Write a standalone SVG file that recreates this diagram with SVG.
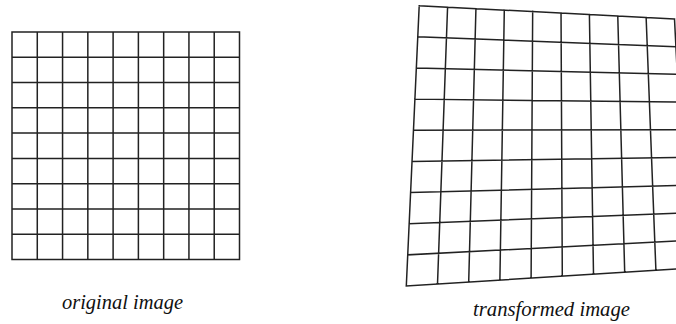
<svg xmlns="http://www.w3.org/2000/svg" width="676" height="324" viewBox="0 0 676 324">
<style>
.g{fill:none;stroke:#222;stroke-width:1.5;stroke-linecap:square}
.lbl{font-family:'Liberation Serif','DejaVu Serif',serif;font-style:italic;font-size:20px;fill:#111;text-anchor:middle}
</style>
<rect width="676" height="324" fill="#fff"/>
<g id="original-grid">
<path class="g" d="M12,32H239.5M12,57.28H239.5M12,82.56H239.5M12,107.83H239.5M12,133.11H239.5M12,158.39H239.5M12,183.67H239.5M12,208.94H239.5M12,234.22H239.5M12,259.5H239.5
M12,32V259.5M37.28,32V259.5M62.56,32V259.5M87.83,32V259.5M113.11,32V259.5M138.39,32V259.5M163.67,32V259.5M188.94,32V259.5M214.22,32V259.5M239.5,32V259.5"/>
</g>
<g id="transformed-grid">
<path class="g" d="M419.2,5.7L406.3,286M447.57,7.18L437.5,284.03M475.93,8.66L468.7,282.07M504.3,10.13L499.9,280.1M532.67,11.61L531.1,278.13M561.03,13.09L562.3,276.17M589.4,14.57L593.5,274.2M617.77,16.04L624.7,272.23M646.13,17.52L655.9,270.27M674.5,19L687.1,268.3
M419.2,5.7L674.5,19M417.77,36.84L675.9,46.7M416.33,67.99L677.3,74.4M414.9,99.13L678.7,102.1M413.47,130.28L680.1,129.8M412.03,161.42L681.5,157.5M410.6,192.57L682.9,185.2M409.17,223.71L684.3,212.9M407.73,254.86L685.7,240.6M406.3,286L687.1,268.3"/>
</g>
<g id="labels">
<text class="lbl" x="122.5" y="309" textLength="121" lengthAdjust="spacingAndGlyphs">original image</text>
<text class="lbl" x="551.5" y="316" textLength="157" lengthAdjust="spacingAndGlyphs">transformed image</text>
</g>
</svg>
